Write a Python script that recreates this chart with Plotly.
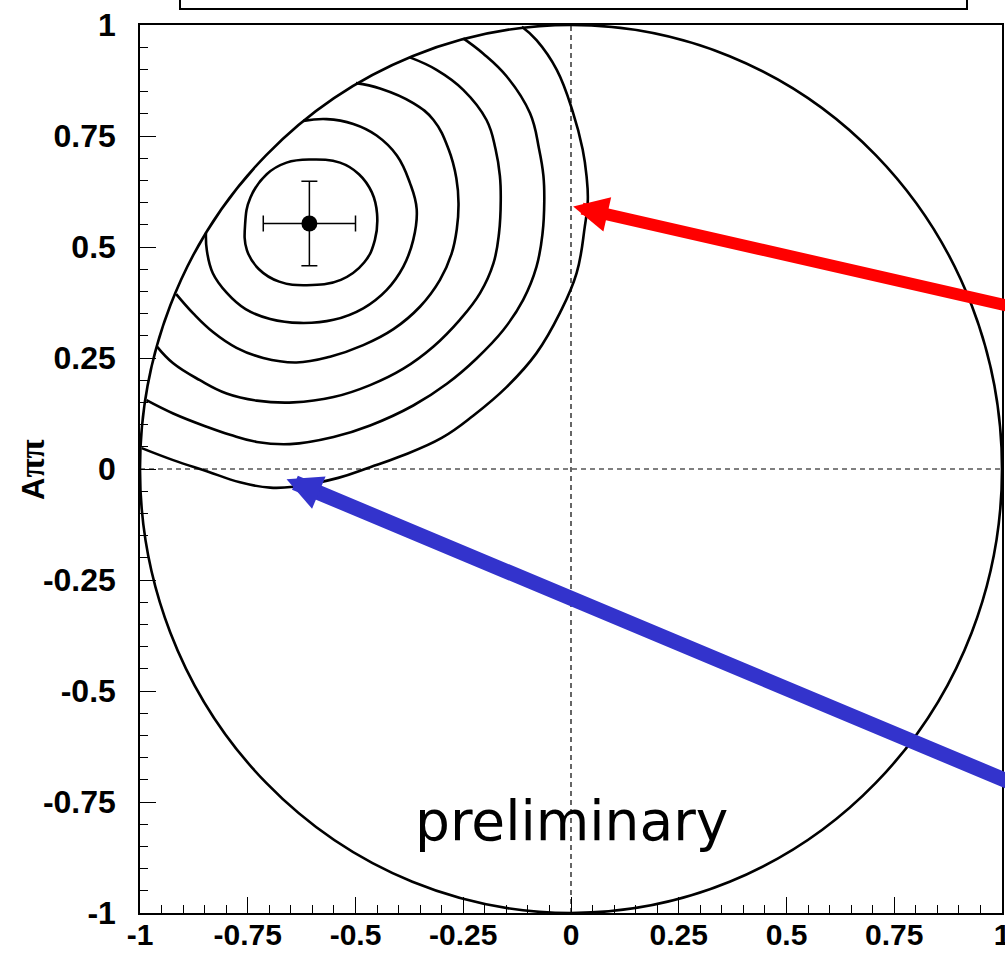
import plotly.graph_objects as go

# Physical region: S^2 + A^2 <= 1
PHYS_RADIUS = 1.0

# Central value and errors (S_pipi, A_pipi)
S_VAL = -0.607
A_VAL = 0.553
S_ERR = 0.107
A_ERR = 0.095

# Confidence-level contours, innermost first (S values, A values)
C1_S = [-0.606, -0.536, -0.492, -0.462, -0.450, -0.455, -0.480, -0.534, -0.613, -0.677,
        -0.724, -0.752, -0.756, -0.744, -0.706, -0.660, -0.606]
C1_A = [0.697, 0.690, 0.664, 0.623, 0.575, 0.516, 0.465, 0.426, 0.414, 0.422,
        0.450, 0.493, 0.553, 0.611, 0.664, 0.690, 0.697]

C2_S = [-0.621, -0.567, -0.505, -0.451, -0.404, -0.374, -0.358, -0.366, -0.389, -0.428,
        -0.482, -0.551, -0.629, -0.698, -0.755, -0.798, -0.831, -0.845, -0.847]
C2_A = [0.784, 0.788, 0.777, 0.751, 0.706, 0.645, 0.585, 0.516, 0.456, 0.403,
        0.362, 0.336, 0.329, 0.338, 0.360, 0.396, 0.441, 0.493, 0.532]

C3_S = [-0.499, -0.443, -0.366, -0.319, -0.284, -0.266, -0.261, -0.265, -0.277, -0.304,
        -0.350, -0.412, -0.482, -0.559, -0.637, -0.714, -0.776, -0.830, -0.876, -0.916]
C3_A = [0.869, 0.857, 0.824, 0.786, 0.720, 0.655, 0.598, 0.540, 0.485, 0.426,
        0.366, 0.315, 0.279, 0.253, 0.240, 0.250, 0.273, 0.308, 0.350, 0.394]

C4_S = [-0.374, -0.312, -0.250, -0.196, -0.175, -0.165, -0.163, -0.167, -0.180, -0.211,
        -0.258, -0.319, -0.389, -0.466, -0.551, -0.644, -0.729, -0.799, -0.861, -0.923, -0.960]
C4_A = [0.927, 0.899, 0.854, 0.786, 0.720, 0.660, 0.606, 0.531, 0.463, 0.396,
        0.336, 0.276, 0.226, 0.189, 0.162, 0.150, 0.154, 0.170, 0.200, 0.238, 0.275]

C5_S = [-0.250, -0.204, -0.149, -0.095, -0.074, -0.064, -0.062, -0.066, -0.080, -0.111,
        -0.157, -0.219, -0.288, -0.366, -0.466, -0.551, -0.652, -0.729, -0.791, -0.845,
        -0.923, -0.985]
C5_A = [0.970, 0.936, 0.884, 0.801, 0.720, 0.660, 0.603, 0.531, 0.456, 0.381,
        0.313, 0.249, 0.192, 0.143, 0.098, 0.072, 0.056, 0.061, 0.077, 0.095,
        0.125, 0.155]

C6_S = [-0.114, -0.080, -0.033, 0.004, 0.027, 0.036, 0.039, 0.032, 0.013, -0.026,
        -0.080, -0.149, -0.227, -0.300, -0.397, -0.466, -0.540, -0.644, -0.698, -0.768,
        -0.845, -0.923, -0.996]
C6_A = [0.996, 0.966, 0.899, 0.805, 0.720, 0.660, 0.606, 0.546, 0.441, 0.351,
        0.261, 0.185, 0.120, 0.070, 0.028, 0.004, -0.020, -0.040, -0.042, -0.030,
        -0.005, 0.020, 0.047]

CONTOURS = [(C1_S, C1_A), (C2_S, C2_A), (C3_S, C3_A),
            (C4_S, C4_A), (C5_S, C5_A), (C6_S, C6_A)]

# Axis ticks
TICK_VALS = [-1, -0.75, -0.5, -0.25, 0, 0.25, 0.5, 0.75, 1]
TICK_TEXT = ["-1", "-0.75", "-0.5", "-0.25", "0", "0.25", "0.5", "0.75", "1"]

# Highlight arrows: (tip S, tip A, tail S, tail A, colour, shaft width)
ARROWS = [
    (0.005, 0.591, 1.111, 0.346, "#ff0000", 12),
    (-0.660, -0.023, 1.111, -0.743, "#3333cc", 15),
]

fig = go.Figure()

for s_vals, a_vals in CONTOURS:
    fig.add_trace(go.Scatter(
        x=s_vals, y=a_vals, mode="lines",
        line=dict(color="black", width=2.6, shape="spline", smoothing=1.2),
        hoverinfo="skip", showlegend=False,
    ))

fig.add_trace(go.Scatter(
    x=[S_VAL], y=[A_VAL], mode="markers",
    marker=dict(size=16, color="black"),
    error_x=dict(type="data", array=[S_ERR], color="black", thickness=1.5, width=8),
    error_y=dict(type="data", array=[A_ERR], color="black", thickness=1.5, width=8),
    hoverinfo="skip", showlegend=False,
))

shapes = [
    dict(type="circle", xref="x", yref="y",
         x0=-PHYS_RADIUS, y0=-PHYS_RADIUS, x1=PHYS_RADIUS, y1=PHYS_RADIUS,
         line=dict(color="black", width=2.6), layer="above"),
    dict(type="line", xref="x", yref="y", x0=0, x1=0, y0=-1, y1=1,
         line=dict(color="black", width=1.2, dash="5px,4px")),
    dict(type="line", xref="x", yref="y", x0=-1, x1=1, y0=0, y1=0,
         line=dict(color="black", width=1.2, dash="5px,4px")),
    # title pave above the frame
    dict(type="rect", xref="paper", yref="paper",
         x0=0.0464, x1=0.9594, y0=1.018, y1=1.06,
         line=dict(color="black", width=2), fillcolor="white"),
]

annotations = [
    dict(text="preliminary", x=0.002, y=-0.793, xref="x", yref="y",
         showarrow=False, xanchor="center", yanchor="middle",
         font=dict(family="DejaVu Sans", size=55, color="black")),
    dict(text="<b>A</b><b><span style='font-family:Liberation Serif;font-size:35px'>ππ</span></b>",
         x=-0.1253, y=0.5, xref="paper", yref="paper", textangle=-90,
         showarrow=False, xanchor="center", yanchor="middle",
         font=dict(family="Liberation Sans", size=31, color="black")),
]

for tip_s, tip_a, tail_s, tail_a, colour, width in ARROWS:
    annotations.append(dict(
        x=tip_s, y=tip_a, ax=tail_s, ay=tail_a,
        xref="x", yref="y", axref="x", ayref="y",
        text="", showarrow=True, arrowhead=2,
        arrowsize=7.0 / width, arrowwidth=width, arrowcolor=colour,
        standoff=0,
    ))

axis_common = dict(
    range=[-1, 1], tickmode="array", tickvals=TICK_VALS, ticktext=TICK_TEXT,
    ticks="inside", ticklen=16, tickwidth=1.2, tickcolor="black",
    minor=dict(ticks="inside", ticklen=8, tickwidth=1.2, tickcolor="black",
               tickmode="linear", tick0=-1, dtick=0.05, showgrid=False),
    showgrid=False, zeroline=False,
    showline=True, mirror=True, linecolor="black", linewidth=1.5,
    automargin=False, ticklabeloverflow="allow",
    fixedrange=True,
)

fig.update_layout(
    width=1005, height=955,
    margin=dict(l=140, r=3, t=25, b=42),
    paper_bgcolor="white", plot_bgcolor="white",
    xaxis=dict(axis_common, ticklabelstandoff=-6,
               tickfont=dict(family="Liberation Sans", size=30, color="black", weight="bold")),
    yaxis=dict(axis_common, ticklabelstandoff=16,
               tickfont=dict(family="Liberation Sans", size=32, color="black", weight="bold")),
    shapes=shapes, annotations=annotations,
    showlegend=False,
)

fig.write_html("out.html")
